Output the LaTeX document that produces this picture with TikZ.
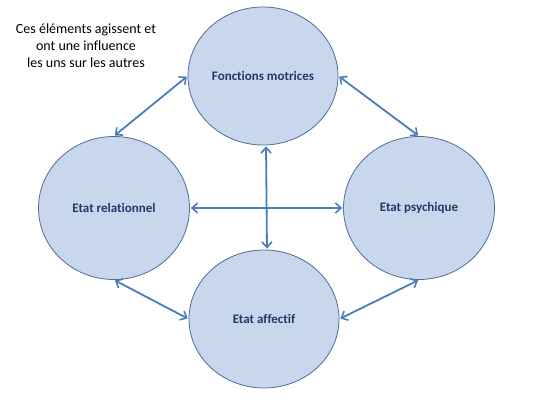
\documentclass[tikz,border=0pt]{standalone}
\usepackage{fontspec}
\setmainfont[Ligatures=NoCommon]{Carlito}
\usetikzlibrary{shapes.geometric,arrows.meta}
\definecolor{cfill}{HTML}{C8D7EB}
\definecolor{cborder}{HTML}{4C6C9C}
\definecolor{carrow}{HTML}{4A7EBB}
\definecolor{ctext}{HTML}{24386A}
\tikzset{
  bubble/.style={ellipse, draw=cborder, fill=cfill, line width=0.8pt, minimum width=150pt, minimum height=138pt, inner sep=0pt, text=ctext, font=\fontsize{13}{15}\selectfont\bfseries},
  link/.style={draw=carrow, line width=1.8pt, {Straight Barb[length=5.5pt,width=10pt,line width=1.6pt]}-{Straight Barb[length=5.5pt,width=10pt,line width=1.6pt]}, shorten <=1pt, shorten >=1pt}
}
\begin{document}
\begin{tikzpicture}[x=1pt,y=-1pt]
\useasboundingbox (0,0) rectangle (541,406);
\node[bubble] (top) at (263,76) {Fonctions\ motrices};
\node[bubble, minimum width=151pt, minimum height=143pt] (left) at (114,208) {Etat relationnel};
\node[bubble, minimum width=151pt, minimum height=143pt] (right) at (419,208) {Etat psychique};
\node[bubble] (bot) at (264,319) {Etat affectif};
\node[align=center, font=\fontsize{14}{17}\selectfont] (note) at (86,46) {Ces éléments agissent et\\ont\ une influence\\les uns\ sur les autres};
\draw[link] (top.west) -- (left.north);
\draw[link] (top.east) -- (right.north);
\draw[link] (left.south) -- (bot.west);
\draw[link] (right.south) -- (bot.east);
\draw[link] ([xshift=3pt]top.south) -- ([xshift=3pt]bot.north);
\draw[link] (left.east) -- (right.west);
\end{tikzpicture}
\end{document}
